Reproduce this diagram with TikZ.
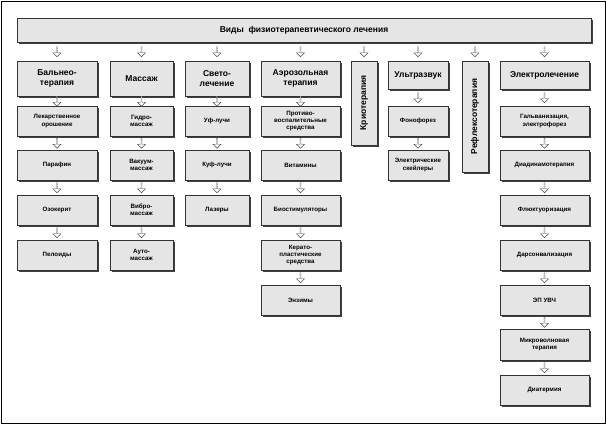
\documentclass[tikz,border=0pt]{standalone}
\usepackage{fontspec}
\setmainfont{Liberation Sans}
\usetikzlibrary{shapes.arrows,shadows}
\begin{document}
\begin{tikzpicture}[x=1pt,y=-1pt,
  boxbase/.style={draw=black!80,fill=black!10,line width=0.5pt,align=center,inner sep=1pt,
    drop shadow={shadow xshift=1.8pt,shadow yshift=-1.8pt,fill=black!75,opacity=1}},
  head/.style={boxbase,font=\bfseries\fontsize{8.5}{10}\selectfont},
  item/.style={boxbase,font=\bfseries\fontsize{6.2}{7.4}\selectfont},
  dnarr/.style={single arrow,draw=black!70,fill=white,line width=0.4pt,shape border rotate=270,
    minimum width=8pt,single arrow head extend=1.5pt,single arrow head indent=0pt,minimum height=10pt,inner sep=0pt}]
\useasboundingbox (0,0) rectangle (606,424);
\draw[line width=0.8pt] (1,1) rectangle (605,423);
\newcommand{\mybox}[7]{\node[#1,minimum width=#4-#2,minimum height=#5-#3] (#6) at ({(#2+#4)/2},{(#3+#5)/2}) {#7};}
\mybox{head}{17}{18}{591}{42}{top}{Виды\ \ физиотерапевтического лечения}
% column 1
\mybox{head}{17}{61}{97}{96}{h1}{Бальнео-\\терапия}
\mybox{item}{17}{106}{97}{136}{a1}{Лекарственное\\орошение}
\mybox{item}{17}{150}{97}{180}{a2}{Парафин}
\mybox{item}{17}{195}{97}{225}{a3}{Озокерит}
\mybox{item}{17}{240}{97}{270}{a4}{Пелоиды}
% column 2
\mybox{head}{110}{61}{173}{96}{h2}{Массаж}
\mybox{item}{110}{106}{173}{136}{b1}{Гидро-\\массаж}
\mybox{item}{110}{150}{173}{180}{b2}{Вакуум-\\массаж}
\mybox{item}{110}{195}{173}{225}{b3}{Вибро-\\массаж}
\mybox{item}{110}{240}{173}{270}{b4}{Ауто-\\массаж}
% column 3
\mybox{head}{185}{61}{249}{96}{h3}{Свето-\\лечение}
\mybox{item}{185}{106}{249}{136}{c1}{Уф-лучи}
\mybox{item}{185}{150}{249}{180}{c2}{Куф-лучи}
\mybox{item}{185}{195}{249}{225}{c3}{Лазеры}
% column 4
\mybox{head}{261}{61}{340}{96}{h4}{Аэрозольная\\терапия}
\mybox{item}{261}{106}{340}{136}{d1}{Противо-\\воспалительные\\средства}
\mybox{item}{261}{150}{340}{180}{d2}{Витамины}
\mybox{item}{261}{195}{340}{225}{d3}{Биостимуляторы}
\mybox{item}{261}{240}{340}{270}{d4}{Керато-\\пластические\\средства}
\mybox{item}{261}{285}{340}{315}{d5}{Энзимы}
% column 5
\node[head,minimum width=84pt,minimum height=26pt,rotate=90] (h5) at (364,103) {Криотерапия};
% column 6
\mybox{head}{388}{61}{448}{89}{h6}{Ультразвук}
\mybox{item}{388}{106}{448}{136}{f1}{Фонофорез}
\mybox{item}{388}{150}{448}{180}{f2}{Электрические\\скейлеры}
% column 7
\node[head,minimum width=111pt,minimum height=26pt,rotate=90] (h7) at (475,116.5) {Рефлексотерапия};
% column 8
\mybox{head}{500}{61}{589}{89}{h8}{Электролечение}
\mybox{item}{500}{106}{589}{136}{g1}{Гальванизация,\\электрофорез}
\mybox{item}{500}{150}{589}{180}{g2}{Диадинамотерапия}
\mybox{item}{500}{195}{589}{225}{g3}{Флюктуоризация}
\mybox{item}{500}{240}{589}{270}{g4}{Дарсонвализация}
\mybox{item}{500}{285}{589}{315}{g5}{ЭП УВЧ}
\mybox{item}{500}{329}{589}{360}{g6}{Микроволновая\\терапия}
\mybox{item}{500}{375}{589}{405}{g7}{Диатермия}
% arrows from top
\foreach \h in {h1,h2,h3,h4,h6,h8}{
  \path (top.south -| \h.north) -- (\h.north) node[midway,dnarr]{};}
\path (top.south -| h5.east) -- (h5.east) node[midway,dnarr]{};
\path (top.south -| h7.east) -- (h7.east) node[midway,dnarr]{};
% chains
\foreach \u/\v in {h1/a1,a1/a2,a2/a3,a3/a4,h2/b1,b1/b2,b2/b3,b3/b4,h3/c1,c1/c2,c2/c3,
  h4/d1,d1/d2,d2/d3,d3/d4,d4/d5,h6/f1,f1/f2,h8/g1,g1/g2,g2/g3,g3/g4,g4/g5,g5/g6,g6/g7}{
  \path (\u.south) -- (\v.north) node[midway,dnarr]{};}
\end{tikzpicture}
\end{document}
